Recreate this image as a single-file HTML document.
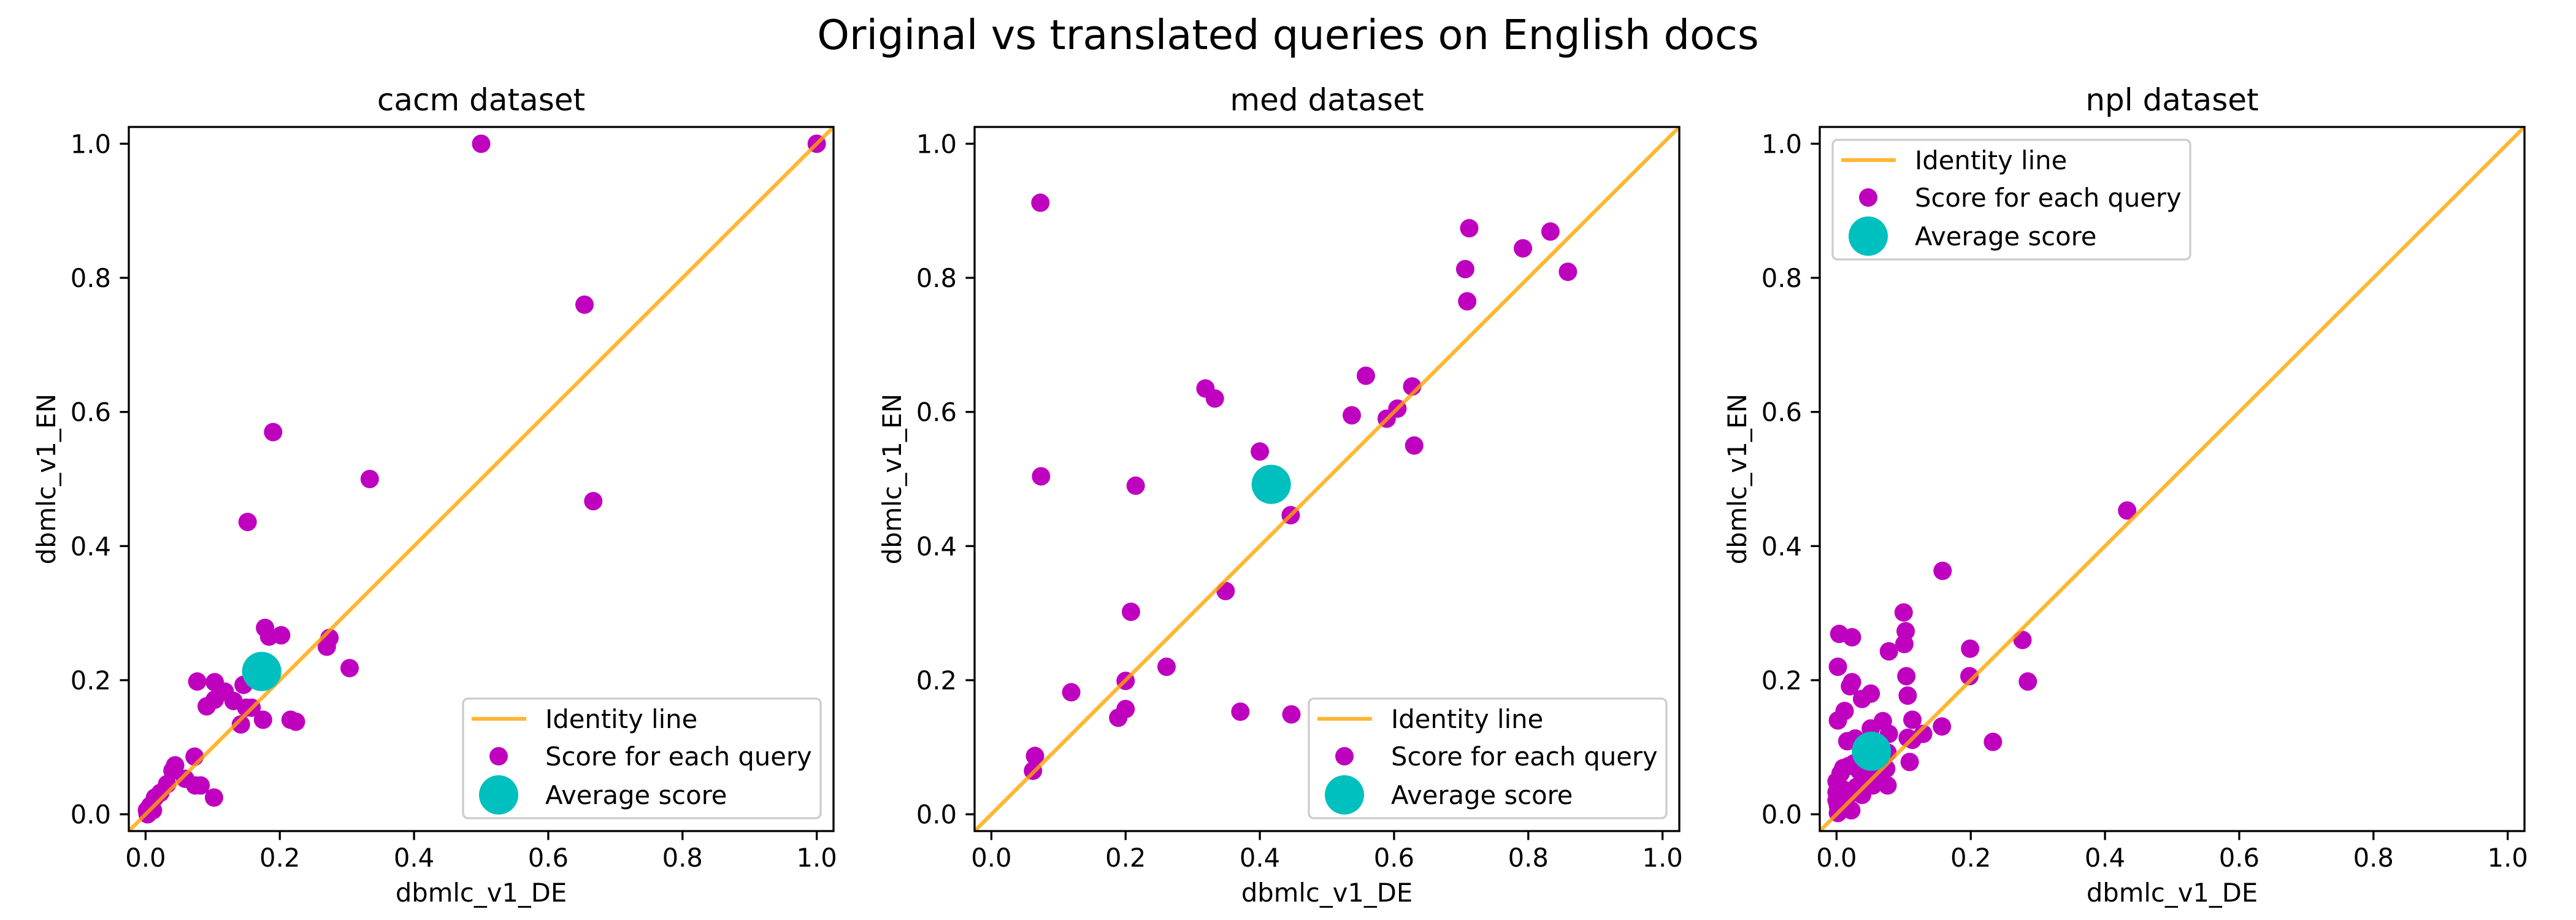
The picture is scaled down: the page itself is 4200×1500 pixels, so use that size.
<!DOCTYPE html>
<html><head><meta charset="utf-8">
<style>
html,body{margin:0;padding:0;background:#fff;}
svg{display:block;font-family:"DejaVu Sans","Liberation Sans",sans-serif;}
</style></head>
<body>
<svg id="fig" width="4200" height="1500" viewBox="0 0 4200 1500" xmlns="http://www.w3.org/2000/svg">
<rect width="4200" height="1500" fill="#fff"/>
<text x="2100" y="80" font-size="67" text-anchor="middle">Original vs translated queries on English docs</text>
</svg>
<script>
const panelTitles = ["cacm dataset","med dataset","npl dataset"];
const tickValues = [0,0.2,0.4,0.6,0.8,1.0];
const tickLabels = ["0.0","0.2","0.4","0.6","0.8","1.0"];
const cacmDE = [0.5,1.0,0.654,0.667,0.19,0.334,0.152,0.178,0.184,0.202,0.27,0.274,0.304,0.077,0.103,0.091,0.103,0.118,0.131,0.146,0.15,0.158,0.142,0.175,0.216,0.224,0.073,0.044,0.04,0.059,0.074,0.082,0.102,0.032,0.022,0.014,0.007,0.002,0.003,0.011];
const cacmEN = [1.0,1.0,0.760,0.467,0.57,0.5,0.436,0.278,0.265,0.267,0.25,0.263,0.218,0.198,0.197,0.161,0.171,0.183,0.169,0.193,0.159,0.159,0.134,0.141,0.141,0.138,0.086,0.073,0.065,0.053,0.043,0.043,0.025,0.045,0.032,0.025,0.013,0.006,0.0,0.006];
const medDE = [0.073,0.074,0.215,0.712,0.833,0.792,0.706,0.859,0.709,0.558,0.627,0.319,0.333,0.537,0.589,0.605,0.630,0.400,0.446,0.349,0.208,0.261,0.200,0.119,0.200,0.189,0.371,0.447,0.065,0.062];
const medEN = [0.912,0.504,0.490,0.874,0.869,0.844,0.813,0.809,0.765,0.654,0.638,0.635,0.620,0.595,0.590,0.605,0.550,0.541,0.446,0.333,0.302,0.220,0.199,0.182,0.157,0.144,0.153,0.149,0.087,0.065];
const nplDE = [0.433,0.158,0.1,0.103,0.101,0.078,0.004,0.023,0.002,0.023,0.02,0.051,0.038,0.104,0.106,0.012,0.002,0.069,0.113,0.199,0.198,0.277,0.285,0.157,0.233,0.129,0.106,0.113,0.109,0.016,0.028,0.051,0.078,0.076,0.074,0.076,0.054,0.038,0.022,0.002,0.0,0.006,0.01,0.018,0.026,0.034,0.042,0.01,0.0,0.002,0.018,0.03,0.047,0.059,0.067,0.0];
const nplEN = [0.453,0.363,0.301,0.273,0.254,0.243,0.269,0.264,0.220,0.197,0.191,0.180,0.172,0.206,0.177,0.154,0.140,0.139,0.141,0.247,0.206,0.26,0.198,0.131,0.108,0.120,0.114,0.111,0.078,0.109,0.113,0.128,0.120,0.092,0.068,0.043,0.043,0.029,0.006,0.002,0.049,0.061,0.069,0.072,0.076,0.065,0.053,0.037,0.021,0.013,0.029,0.041,0.061,0.076,0.053,0.033];
const avgDE = [0.173,0.417,0.052];
const avgEN = [0.213,0.492,0.094];
const seriesDE = [cacmDE, medDE, nplDE];
const seriesEN = [cacmEN, medEN, nplEN];
const legendCorner = ["lower-right","lower-right","upper-left"];

const NS="http://www.w3.org/2000/svg";
const svg=document.getElementById('fig');
const LEFTS=[210,1589,2967], TOP=207, W=1149, H=1148, LO=-0.025, HI=1.025;
const FS=41.7;
const PR=15;
function mk(tag,attrs,parent){const e=document.createElementNS(NS,tag);for(const k in attrs)e.setAttribute(k,attrs[k]);(parent||svg).appendChild(e);return e;}

for(let p=0;p<3;p++){
  const L=LEFTS[p];
  const sx=v=>L+(v-LO)/(HI-LO)*W;
  const sy=v=>TOP+H-(v-LO)/(HI-LO)*H;
  const g=mk('g',{});
  
  
  const clipId='clip'+p;
  const cp=mk('clipPath',{id:clipId},g);
  mk('rect',{x:L,y:TOP,width:W,height:H},cp);
  const t=mk('text',{x:L+W/2,y:180,'font-size':50,'text-anchor':'middle'},g);
  t.textContent=panelTitles[p];
  
  
  for(let i=0;i<tickValues.length;i++){
    const x=sx(tickValues[i]), y=sy(tickValues[i]);
    const xt=mk('line',{x1:x,x2:x,y1:TOP+H,y2:TOP+H+14.6,stroke:'#000','stroke-width':3.3},g);
    
    
    const xl=mk('text',{x:x,y:1413,'font-size':FS,'text-anchor':'middle'},g);
    xl.textContent=tickLabels[i];
    
    
    const yt=mk('line',{x1:L-14.6,x2:L,y1:y,y2:y,stroke:'#000','stroke-width':3.3},g);
    
    
    const yl=mk('text',{x:L-29,y:y+15,'font-size':FS,'text-anchor':'end'},g);
    yl.textContent=tickLabels[i];
    
    
  }
  const xlab=mk('text',{x:L+W/2,y:1470,'font-size':FS,'text-anchor':'middle'},g);
  xlab.textContent='dbmlc_v1_DE';
  
  
  const ylab=mk('text',{x:0,y:0,'font-size':FS,'text-anchor':'middle',transform:`translate(${L-120},${TOP+H/2}) rotate(-90)`},g);
  ylab.textContent='dbmlc_v1_EN';
  
  
  const pg=mk('g',{'clip-path':`url(#${clipId})`},g);
  const de=seriesDE[p], en=seriesEN[p];
  for(let i=0;i<de.length;i++){
    const c=mk('circle',{cx:sx(de[i]),cy:sy(en[i]),r:PR,fill:'#bf00bf'},pg);
    
    
  }
  const idl=mk('line',{x1:sx(LO),y1:sy(LO),x2:sx(HI),y2:sy(HI),stroke:'#ffa500','stroke-opacity':0.8,'stroke-width':6.25},pg);
  
  
  const av=mk('circle',{cx:sx(avgDE[p]),cy:sy(avgEN[p]),r:32,fill:'#00bfbf'},pg);
  
  
  const frame=mk('rect',{x:L,y:TOP,width:W,height:H,fill:'none',stroke:'#000','stroke-width':3.3},g);
  
  
  const LW=583, LH=195;
  const lx = legendCorner[p]==='upper-left' ? L+21 : L+W-21-LW;
  const ly = legendCorner[p]==='upper-left' ? TOP+21 : TOP+H-21-LH;
  const lg=mk('g',{},g);
  
  
  mk('rect',{x:lx,y:ly,width:LW,height:LH,rx:8,fill:'#fff','fill-opacity':0.8,stroke:'#cccccc','stroke-width':3.3},lg);
  const rows=[33,94,157];
  const labels=['Identity line','Score for each query','Average score'];
  const hl=mk('line',{x1:lx+14,x2:lx+103,y1:ly+rows[0],y2:ly+rows[0],stroke:'#ffa500','stroke-opacity':0.8,'stroke-width':6.25},lg);
  
  
  const hp=mk('circle',{cx:lx+58,cy:ly+rows[1],r:PR,fill:'#bf00bf'},lg);
  
  
  const ha=mk('circle',{cx:lx+58,cy:ly+rows[2],r:32,fill:'#00bfbf'},lg);
  
  
  for(let i=0;i<3;i++){
    const tt=mk('text',{x:lx+134,y:ly+rows[i]+15,'font-size':FS},lg);
    tt.textContent=labels[i];
    
    
  }
}
</script>
</body></html>
